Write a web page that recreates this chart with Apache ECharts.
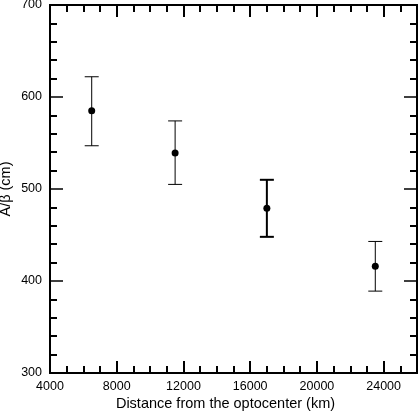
<!DOCTYPE html>
<html>
<head>
<meta charset="utf-8">
<script src="https://cdn.jsdelivr.net/npm/echarts@6/dist/echarts.min.js"></script>
<style>
  html, body { margin: 0; padding: 0; background: #fff; }
  #chart { width: 419px; height: 413px; }
</style>
</head>
<body>
<div id="chart"></div>
<script>
// distance from the optocenter (km)
const distance = [6500, 11500, 17000, 23500];
// A/beta (cm)
const aBeta = [585, 539, 479, 416];
const errLow = [547, 505, 448, 389];
const errHigh = [622, 574, 510, 443];

const FONT = "Liberation Sans, Arial, sans-serif";
const chart = echarts.init(document.getElementById("chart"), null, { renderer: "canvas" });

const black = "#000";

// x axes: one with long ticks every 4000, one with short ticks every 1000
function xAx(pos, interval, len, labels, name) {
  return {
    type: "value",
    position: pos,
    min: 4000,
    max: 26000,
    interval: interval,
    name: name || "",
    nameLocation: "middle",
    nameGap: 23,
    nameMoveOverlap: false,
    nameTextStyle: { fontFamily: FONT, fontSize: 14.5, color: black, padding: [0, 16, 0, 0] },
    axisLine: { show: true, lineStyle: { color: black, width: 2 } },
    axisTick: { show: true, inside: true, length: len, lineStyle: { color: black, width: 2 } },
    axisLabel: {
      show: labels,
      margin: 7,
      fontFamily: FONT,
      fontSize: 12.5,
      color: black,
      formatter: (v) => (v % 4000 === 0 && v < 26000 ? String(v) : ""),
    },
    splitLine: { show: false },
  };
}

function yAx(pos, labels, name) {
  return {
    type: "value",
    position: pos,
    min: 300,
    max: 700,
    interval: 100,
    name: name || "",
    nameLocation: "middle",
    nameGap: 37,
    nameMoveOverlap: false,
    nameTextStyle: { fontFamily: FONT, fontSize: 14.5, color: black },
    axisLine: { show: true, lineStyle: { color: black, width: 2 } },
    axisTick: { show: true, inside: true, length: 13, lineStyle: { color: black, width: 1.5 } },
    minorTick: { show: true, splitNumber: 5, length: 7, lineStyle: { color: black, width: 2 } },
    axisLabel: { show: labels, margin: 8, fontFamily: FONT, fontSize: 12.5, color: black },
    splitLine: { show: false },
  };
}

chart.setOption({
  animation: false,
  backgroundColor: "#fff",
  grid: { left: 50, right: 2, top: 5, bottom: 40, outerBoundsMode: "none", containLabel: false },
  xAxis: [
    xAx("bottom", 4000, 12, true, "Distance from the optocenter (km)"),
    xAx("bottom", 1000, 7, false),
    xAx("top", 4000, 12, false),
    xAx("top", 1000, 7, false),
  ],
  yAxis: [
    yAx("left", true, "A/\u03b2 (cm)"),
    yAx("right", false),
  ],
  series: [
    {
      type: "custom",
      xAxisIndex: 0,
      yAxisIndex: 0,
      data: distance.map((d, i) => [d, errLow[i], errHigh[i]]),
      renderItem: (params, api) => {
        const x = api.value(0);
        const lo = api.coord([x, api.value(1)]);
        const hi = api.coord([x, api.value(2)]);
        const w = 7;
        const lw = params.dataIndex === 2 ? 2 : 1;
        const style = { stroke: black, lineWidth: lw };
        return {
          type: "group",
          children: [
            { type: "line", shape: { x1: lo[0], y1: lo[1], x2: hi[0], y2: hi[1] }, style },
            { type: "line", shape: { x1: hi[0] - w, y1: hi[1], x2: hi[0] + w, y2: hi[1] }, style },
            { type: "line", shape: { x1: lo[0] - w, y1: lo[1], x2: lo[0] + w, y2: lo[1] }, style },
          ],
        };
      },
      z: 2,
    },
    {
      type: "scatter",
      xAxisIndex: 0,
      yAxisIndex: 0,
      data: distance.map((d, i) => [d, aBeta[i]]),
      symbol: "circle",
      symbolSize: 7,
      itemStyle: { color: black, opacity: 1 },
      z: 3,
    },
  ],
});
</script>
</body>
</html>
